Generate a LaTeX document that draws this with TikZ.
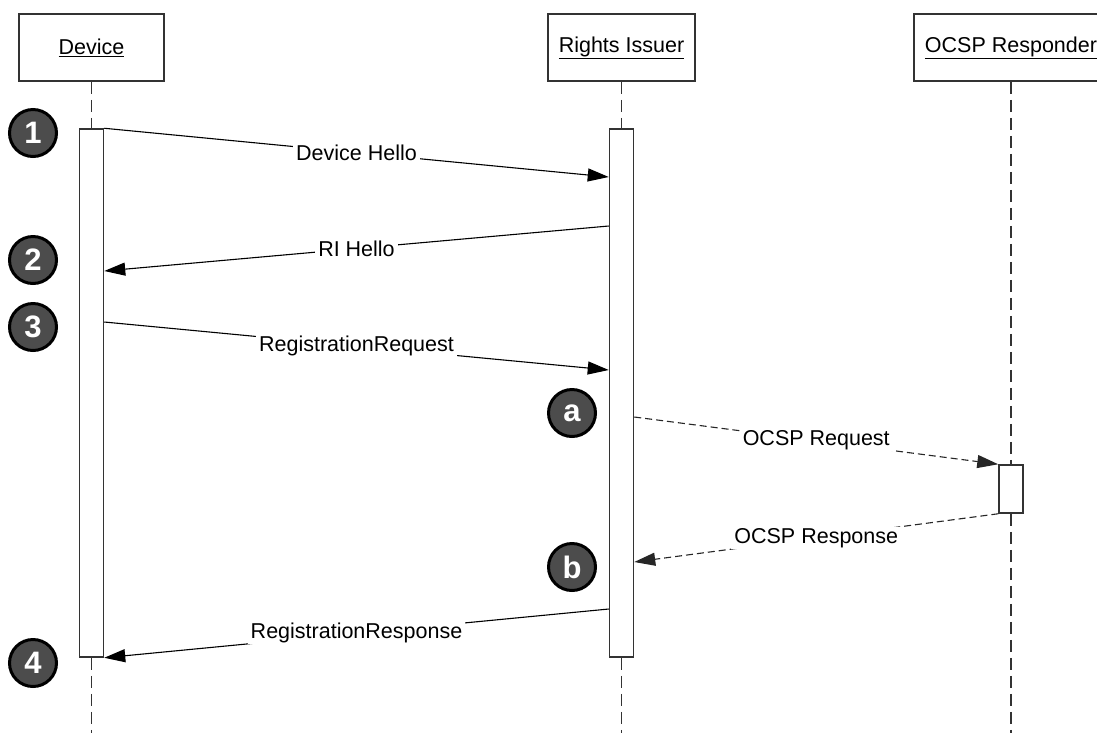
\documentclass[tikz,border=0pt]{standalone}
\usepackage{fontspec}
\setmainfont{Liberation Sans}
\usetikzlibrary{arrows.meta,calc}
\begin{document}
\begin{tikzpicture}[x=1pt,y=-1pt,
 head/.style={draw=black!80, line width=1.5pt, fill=white, minimum height=67pt, inner sep=0pt, font=\fontsize{21.5}{25}\selectfont},
 life/.style={draw=black!80, line width=1.5pt, dash pattern=on 12pt off 6pt},
 bar/.style={draw=black!80, line width=1.5pt, fill=white, minimum width=24pt, inner sep=0pt},
 msg/.style={draw=black, line width=1.1pt, -{Triangle[length=21pt,width=13pt]}},
 rmsg/.style={msg, draw=black!85, dash pattern=on 7pt off 4pt},
 lbl/.style={fill=white, inner xsep=3pt, inner ysep=1pt, font=\fontsize{21.5}{25}\selectfont},
 num/.style={circle, draw=black, line width=3pt, fill=black!70, text=white, minimum size=47pt, inner sep=0pt, font=\fontsize{31}{31}\selectfont\bfseries}]
\useasboundingbox (0,0) rectangle (1097,732);
\clip (0,0) rectangle (1097,732);
\fill[white] (0,0) rectangle (1097,732);

% heads
\node[head, minimum width=145pt] (dev) at (91.5,47.5) {\underline{Device}};
\node[head, minimum width=147pt] (ri) at (621.5,47.5) {\underline{Rights Issuer}};
\node[head, minimum width=194pt] (ocsp) at (1011,47.5) {\underline{OCSP Responder}};

% lifeline ends
\coordinate (devend) at (91.5,740);
\coordinate (riend) at (621.5,740);
\coordinate (ocspend) at (1011,740);
\draw[life] (dev.south) -- (devend);
\draw[life] (ri.south) -- (riend);
\draw[life] (ocsp.south) -- (ocspend);

% activation bars
\node[bar, minimum height=528pt] (devbar) at (91.5,393) {};
\node[bar, minimum height=528pt] (ribar) at (621.5,393) {};
\node[bar, minimum height=48pt] (ocspbar) at (1011,489) {};

% messages
\draw[msg] (devbar.north east) -- (ribar.west |- 0,177) node[lbl, midway] {Device Hello};
\draw[msg] (ribar.west |- 0,226) -- (devbar.east |- 0,271) node[lbl, midway] {RI Hello};
\draw[msg] (devbar.east |- 0,322) -- (ribar.west |- 0,370) node[lbl, midway] {RegistrationRequest};
\draw[rmsg] (ribar.east |- 0,417) -- (ocspbar.north west) node[lbl, midway] {OCSP Request};
\draw[rmsg] (ocspbar.south west) -- (ribar.east |- 0,562) node[lbl, midway] {OCSP Response};
\draw[msg] (ribar.west |- 0,609) -- (devbar.south east) node[lbl, midway] {RegistrationResponse};

% step markers
\node[num] (n1) at (33,133) {1};
\node[num] (n2) at (33,260) {2};
\node[num] (n3) at (33,327) {3};
\node[num] (n4) at (33,663) {4};
\node[num] (na) at (572,413) {a};
\node[num] (nb) at (572,567) {b};
\end{tikzpicture}
\end{document}
